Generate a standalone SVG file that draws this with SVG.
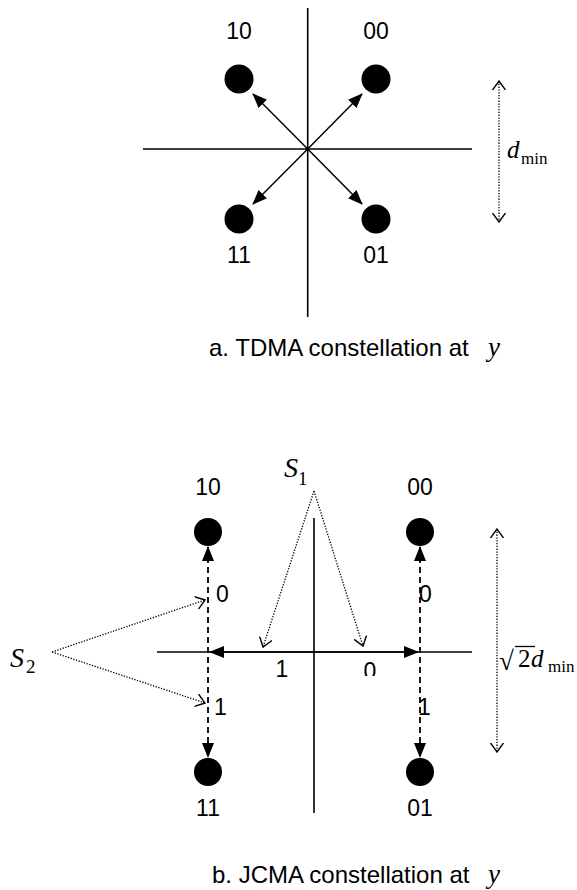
<svg xmlns="http://www.w3.org/2000/svg" width="577" height="890" viewBox="0 0 577 890">
<style>
.ax{stroke:#000;stroke-width:1.6;fill:none}
.ar{stroke:#000;stroke-width:1.5;fill:none}
.dot{stroke:#000;stroke-width:1.3;stroke-dasharray:1.3 1.5;fill:none}
.dash{stroke:#000;stroke-width:1.8;stroke-dasharray:6 4;fill:none}
.pt{fill:#000}
.lb{font-family:"Liberation Sans",Arial,sans-serif;font-size:23px;fill:#000}
.cap{font-family:"Liberation Sans",Arial,sans-serif;font-size:24px;fill:#000}
.it{font-family:"Liberation Serif","Times New Roman",serif;font-style:italic;fill:#000}
.rm{font-family:"Liberation Serif","Times New Roman",serif;fill:#000}
</style>
<defs>
<marker id="ah" viewBox="0 0 15 12" refX="14" refY="6" markerWidth="15" markerHeight="12" markerUnits="userSpaceOnUse" orient="auto-start-reverse"><path d="M0,0 L15,6 L0,12 z" fill="#000"/></marker>
<marker id="ov" viewBox="0 0 10 14" refX="9" refY="7" markerWidth="10" markerHeight="14" markerUnits="userSpaceOnUse" orient="auto-start-reverse"><path d="M0,0.5 L9,7 L0,13.5" fill="none" stroke="#000" stroke-width="1.4"/></marker>
<clipPath id="clip0"><rect x="355" y="655" width="30" height="21"/></clipPath>
</defs>

<!-- Part a -->
<g id="axes-a">
<line class="ax" x1="307.7" y1="8" x2="307.7" y2="317"/>
<line class="ax" x1="143" y1="149" x2="472" y2="149"/>
</g>
<g id="node-a10"><circle class="pt" cx="239" cy="79" r="14.5"/><text class="lb" x="239" y="39" text-anchor="middle">10</text></g>
<g id="node-a00"><circle class="pt" cx="376" cy="79" r="14.5"/><text class="lb" x="376" y="39" text-anchor="middle">00</text></g>
<g id="node-a11"><circle class="pt" cx="239" cy="219" r="14.5"/><text class="lb" x="239" y="263" text-anchor="middle">11</text></g>
<g id="node-a01"><circle class="pt" cx="376" cy="219" r="14.5"/><text class="lb" x="376" y="263" text-anchor="middle">01</text></g>
<g id="connectors-a">
<line class="ar" x1="307.7" y1="149" x2="253" y2="94" marker-end="url(#ah)"/>
<line class="ar" x1="307.7" y1="149" x2="362" y2="94" marker-end="url(#ah)"/>
<line class="ar" x1="307.7" y1="149" x2="253" y2="204" marker-end="url(#ah)"/>
<line class="ar" x1="307.7" y1="149" x2="362" y2="204" marker-end="url(#ah)"/>
<line class="dot" x1="499" y1="81" x2="499" y2="222" marker-start="url(#ov)" marker-end="url(#ov)"/>
</g>
<g id="label-dmin">
<text class="it" x="507" y="158" font-size="25">d</text>
<text class="rm" x="521" y="164" font-size="17">min</text>
</g>
<g id="caption-a">
<text class="cap" x="209" y="356">a. TDMA constellation at</text>
<text class="it" x="488" y="356" font-size="27">y</text>
</g>

<!-- Part b -->
<g id="axes-b">
<line class="ax" x1="314" y1="518" x2="314" y2="813"/>
<line class="ax" x1="157" y1="652" x2="472" y2="652"/>
</g>
<g id="node-b10"><circle class="pt" cx="208" cy="532" r="14"/><text class="lb" x="208" y="495" text-anchor="middle">10</text></g>
<g id="node-b00"><circle class="pt" cx="420" cy="532" r="14"/><text class="lb" x="420" y="495" text-anchor="middle">00</text></g>
<g id="node-b11"><circle class="pt" cx="208" cy="772" r="14"/><text class="lb" x="208" y="816" text-anchor="middle">11</text></g>
<g id="node-b01"><circle class="pt" cx="420" cy="772" r="14"/><text class="lb" x="420" y="816" text-anchor="middle">01</text></g>
<g id="connectors-b">
<line class="ar" x1="314" y1="652" x2="210" y2="652" stroke-width="1.6" marker-end="url(#ah)"/>
<line class="ar" x1="314" y1="652" x2="418" y2="652" stroke-width="1.6" marker-end="url(#ah)"/>
<line class="dash" x1="208" y1="547" x2="208" y2="757" marker-start="url(#ah)" marker-end="url(#ah)"/>
<line class="dash" x1="420" y1="547" x2="420" y2="757" marker-start="url(#ah)" marker-end="url(#ah)"/>
<line class="dot" x1="314" y1="491" x2="263" y2="647" marker-end="url(#ov)"/>
<line class="dot" x1="314" y1="491" x2="363" y2="646" marker-end="url(#ov)"/>
<line class="dot" x1="52" y1="652" x2="205" y2="600" marker-end="url(#ov)"/>
<line class="dot" x1="52" y1="652" x2="205" y2="703" marker-end="url(#ov)"/>
<line class="dot" x1="497" y1="529" x2="497" y2="752" marker-start="url(#ov)" marker-end="url(#ov)"/>
</g>
<g id="bit-labels">
<text class="lb" x="216" y="602">0</text>
<text class="lb" x="214" y="715">1</text>
<text class="lb" x="419" y="602">0</text>
<text class="lb" x="418" y="715">1</text>
<text class="lb" x="282" y="677" text-anchor="middle">1</text>
<text class="lb" x="370" y="679" text-anchor="middle" clip-path="url(#clip0)">0</text>
</g>
<g id="label-S1">
<text class="it" x="284" y="477" font-size="28">S</text>
<text class="rm" x="298" y="485" font-size="19">1</text>
</g>
<g id="label-S2">
<text class="it" x="10" y="667" font-size="28">S</text>
<text class="rm" x="26" y="673" font-size="19">2</text>
</g>
<g id="label-sqrt2dmin">
<text class="rm" x="499" y="670" font-size="27">√</text>
<line x1="515" y1="646.5" x2="535" y2="646.5" stroke="#000" stroke-width="1.3"/>
<text class="rm" x="518" y="667" font-size="25">2</text>
<text class="it" x="531" y="667" font-size="25">d</text>
<text class="rm" x="548" y="672" font-size="17">min</text>
</g>
<g id="caption-b">
<text class="cap" x="212" y="883">b. JCMA constellation at</text>
<text class="it" x="488" y="883" font-size="27">y</text>
</g>
</svg>
